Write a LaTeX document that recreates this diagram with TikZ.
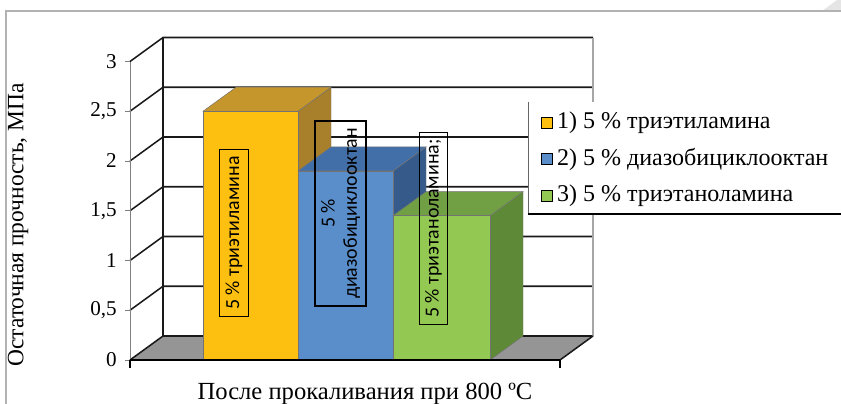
\documentclass[tikz,border=0pt]{standalone}
\usepackage{fontspec}
\setmainfont{Liberation Serif}
\newfontfamily\barfont{Carlito}
\usetikzlibrary{calc,positioning}

\definecolor{yelfront}{HTML}{FDC011}
\definecolor{yeltop}{HTML}{C4962C}
\definecolor{yelside}{HTML}{A87F2A}
\definecolor{blufront}{HTML}{5A8ECB}
\definecolor{blutop}{HTML}{436FA8}
\definecolor{bluside}{HTML}{365B8A}
\definecolor{grnfront}{HTML}{93C852}
\definecolor{grntop}{HTML}{719F44}
\definecolor{grnside}{HTML}{5E8A38}
\definecolor{floorgray}{HTML}{959595}

\tikzset{
  gridline/.style={line width=1.3pt, black!90},
  barface/.style={draw=black!55, line width=0.4pt},
  ticklbl/.style={anchor=east, font=\fontsize{18}{18}\selectfont, inner sep=0pt},
  lbox/.style={draw, line width=1.1pt, rotate=90, font=\barfont\fontsize{17}{19}\selectfont, inner xsep=6pt, inner ysep=5pt},
  legkey/.style={draw, line width=0.8pt, minimum size=10pt, inner sep=0pt},
  legtext/.style={anchor=west, font=\fontsize{20.5}{20.5}\selectfont, inner sep=0pt}
}

\begin{document}
\begin{tikzpicture}[x=0.03cm, y=-0.03cm]
\useasboundingbox (0,0) rectangle (841,404);
\clip (0,0) rectangle (841,404);

% screenshot frame
\fill[gray!20] (822,11) -- (837,0) -- (841,0) -- (841,11) -- cycle;
\draw[gray!60, line width=1pt] (6,404) -- (6,11) -- (841,11);

% floor and walls
\fill[floorgray] (130,360) -- (163,336) -- (593,336) -- (560,360) -- cycle;
\foreach \v in {0,0.5,...,3}
  \draw[gridline] (130,{360-99.5*\v}) -- ++(33,-24) -- (593,{336-99.5*\v});
\draw[gridline] (163,38) -- (163,336);
\draw[gray!70, line width=1.3pt] (593,38) -- (593,336);
\draw[gridline] (560,360) -- (593,336);

% y axis
\draw[gray, line width=0.8pt] (130,62) -- (130,360);
\foreach \v/\t [count=\i] in {0/0,0.5/{0,5},1/1,1.5/{1,5},2/2,2.5/{2,5},3/3} {
  \draw[gray, line width=0.8pt] (125,{360-99.5*\v}) -- (130,{360-99.5*\v});
  \node[ticklbl] (tick\i) at (117,{360-99.5*\v}) {\t};
}

% bars
\foreach \xa/\xb/\v/\c in {203/298/2.5/yel, 298/393/1.9/blu, 393/490/1.45/grn} {
  \pgfmathsetmacro{\yt}{360-99.5*\v}
  \filldraw[barface, fill=\c side] (\xb,\yt) -- ++(33,-24) -- (\xb+33,336) -- (\xb,360) -- cycle;
  \filldraw[barface, fill=\c top] (\xa,\yt) -- ++(33,-24) -- (\xb+33,\yt-24) -- (\xb,\yt) -- cycle;
  \filldraw[barface, fill=\c front] (\xa,360) rectangle (\xb,\yt);
}

% x axis
\draw[line width=1.6pt] (130,360) -- (560,360);
\draw[line width=1.6pt] (130,360) -- (130,368) (560,360) -- (560,368);

% data labels
\node[lbox] (lab1) at (234,233) {5 \% триэтиламина};
\node[lbox, align=center] (lab2) at (340.5,213.5) {5 \%\\диазобициклооктан};
\node[lbox] (lab3) at (433.5,228.5) {5 \% триэтаноламина;};

% axis titles
\node[anchor=base, font=\fontsize{21}{21}\selectfont] (xlab) at (365,399) {После прокаливания при 800 ºС};
\node[rotate=90, font=\fontsize{20}{20}\selectfont] (ylab) at (18,225) {Остаточная прочность, МПа};

% legend
\fill[white] (528,102) rectangle (841,214);
\draw[black!60, line width=0.8pt] (528,102) -- (528,214);
\draw[line width=1.6pt] (528,214) -- (841,214);
\node[legkey, fill=yelfront] (key1) at (547,123) {};
\node[legkey, fill=blufront] (key2) at (547,159) {};
\node[legkey, fill=grnfront] (key3) at (547,196) {};
\node[legtext, right=3pt of key1] (leg1) {1) 5 \% триэтиламина};
\node[legtext, right=3pt of key2] (leg2) {2) 5 \% диазобициклооктан};
\node[legtext, right=3pt of key3] (leg3) {3) 5 \% триэтаноламина};
\end{tikzpicture}
\end{document}
